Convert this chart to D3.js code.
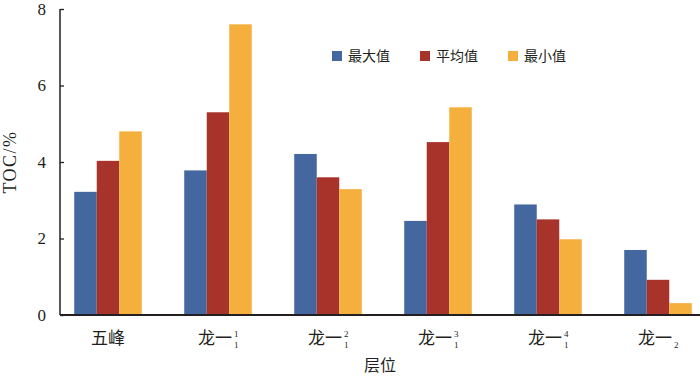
<!DOCTYPE html>
<html>
<head>
<meta charset="utf-8">
<script src="https://cdn.jsdelivr.net/npm/d3@7"></script>
<style>
  body { margin: 0; background: #fff; }
  text { fill: #231f20; }
</style>
</head>
<body>
<div id="chart"></div>
<script>
const categories = ['五峰', '龙一1_1', '龙一2_1', '龙一3_1', '龙一4_1', '龙一_2']
const labelBase = ['五峰', '龙一', '龙一', '龙一', '龙一', '龙一']
const labelSup = ['', '1', '2', '3', '4', '']
const labelSub = ['', '1', '1', '1', '1', '2']
const seriesNames = ['最大值', '平均值', '最小值']
const maxValues = [3.22, 3.78, 4.21, 2.46, 2.89, 1.70]
const meanValues = [4.03, 5.30, 3.60, 4.52, 2.50, 0.92]
const minValues = [4.80, 7.60, 3.29, 5.43, 1.98, 0.31]
const yTicks = [0, 2, 4, 6, 8]
const colors = ['#44679f', '#a8332b', '#f4af3d']

const series = [maxValues, meanValues, minValues]
const width = 700
const height = 378
const axisLeft = 60
const axisRight = 700
const plotTop = 9
const plotBottom = 315

const svg = d3.select('#chart').append('svg')
  .attr('width', width)
  .attr('height', height)

const xScale = d3.scaleBand()
  .domain(categories)
  .range([53, 713])
  .paddingInner(0.386)
  .paddingOuter(0.193)

const xInner = d3.scaleBand()
  .domain(d3.range(series.length))
  .range([0, xScale.bandwidth()])

const yScale = d3.scaleLinear()
  .domain([0, 8])
  .range([plotBottom, plotTop])

// bars
const groups = svg.append('g')
  .selectAll('g')
  .data(categories)
  .join('g')
  .attr('transform', d => `translate(${xScale(d)},0)`)

groups.selectAll('rect')
  .data((d, i) => series.map((s, k) => ({ k, v: s[i] })))
  .join('rect')
  .attr('x', d => xInner(d.k))
  .attr('width', xInner.bandwidth())
  .attr('y', d => yScale(d.v))
  .attr('height', d => yScale(0) - yScale(d.v))
  .attr('fill', d => colors[d.k])

// y axis
const yAxis = svg.append('g')
  .attr('transform', `translate(${axisLeft},0)`)
  .call(d3.axisRight(yScale).tickValues(yTicks).tickSize(4).tickFormat(d3.format('d')))
yAxis.select('.domain').remove()
yAxis.selectAll('.tick line').attr('stroke', '#231f20').attr('stroke-width', 1.3)
yAxis.selectAll('.tick text')
  .attr('x', -14)
  .attr('text-anchor', 'end')
  .style('font-family', '"Liberation Serif", "Times New Roman", serif')
  .style('font-size', '17px')
  .attr('fill', '#231f20')

svg.append('line')
  .attr('x1', axisLeft).attr('x2', axisLeft)
  .attr('y1', plotTop).attr('y2', plotBottom)
  .attr('stroke', '#231f20').attr('stroke-width', 1.5)

// x axis
svg.append('line')
  .attr('x1', axisLeft).attr('x2', axisRight)
  .attr('y1', plotBottom).attr('y2', plotBottom)
  .attr('stroke', '#231f20').attr('stroke-width', 2)

const cx = d => xScale(d) + xScale.bandwidth() / 2

svg.append('g')
  .selectAll('text')
  .data(categories)
  .join('text')
  .attr('x', (d, i) => cx(d) - (labelSub[i] ? 3 : 0))
  .attr('y', 344)
  .attr('text-anchor', 'middle')
  .style('font-family', '"Noto Sans CJK SC", sans-serif')
  .style('font-size', '17px')
  .text((d, i) => labelBase[i])

svg.append('g')
  .selectAll('text')
  .data(categories)
  .join('text')
  .attr('x', d => cx(d) + 16)
  .attr('y', 337)
  .style('font-family', '"Liberation Serif", serif')
  .style('font-size', '9px')
  .text((d, i) => labelSup[i])

svg.append('g')
  .selectAll('text')
  .data(categories)
  .join('text')
  .attr('x', d => cx(d) + 16)
  .attr('y', 348)
  .style('font-family', '"Liberation Serif", serif')
  .style('font-size', '9px')
  .text((d, i) => labelSub[i])

// axis titles
svg.append('text')
  .attr('x', 380)
  .attr('y', 371)
  .attr('text-anchor', 'middle')
  .style('font-family', '"Noto Sans CJK SC", sans-serif')
  .style('font-size', '16px')
  .text('层位')

svg.append('text')
  .attr('transform', 'translate(16,162) rotate(-90)')
  .attr('text-anchor', 'middle')
  .style('font-family', '"Liberation Serif", "Times New Roman", serif')
  .style('font-size', '18px')
  .style('letter-spacing', '1.5px')
  .text('TOC/%')

// legend
const legendX = [332, 420, 508]
const legend = svg.append('g')
  .selectAll('g')
  .data(seriesNames)
  .join('g')
  .attr('transform', (d, i) => `translate(${legendX[i]},51)`)
legend.append('rect')
  .attr('width', 10).attr('height', 10)
  .attr('fill', (d, i) => colors[i])
legend.append('text')
  .attr('x', 16)
  .attr('y', 10)
  .style('font-family', '"Noto Sans CJK SC", sans-serif')
  .style('font-size', '14px')
  .text(d => d)
</script>
</body>
</html>
